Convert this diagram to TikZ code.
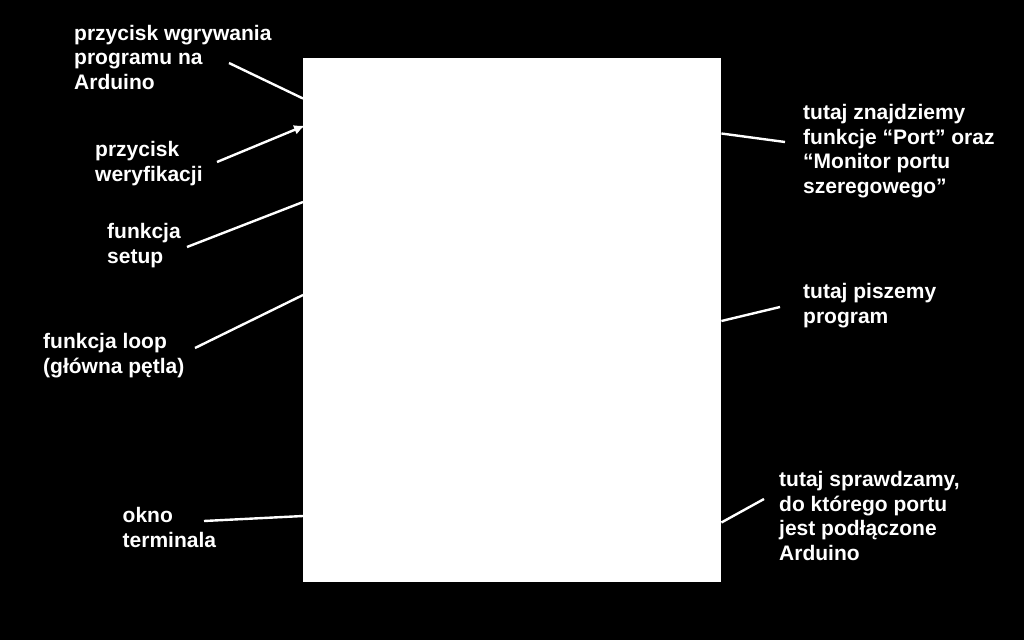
\documentclass[tikz,border=0pt]{standalone}
\usepackage{fontspec}
\setmainfont{Liberation Sans}
\usetikzlibrary{arrows.meta}
\tikzset{
  lbl/.style={anchor=base west, align=left, inner sep=0pt, text=white,
    font=\fontsize{21}{24.4}\selectfont\bfseries},
  conn/.style={draw=white, line width=2.4pt},
}
\begin{document}
\begin{tikzpicture}[x=1pt, y=-1pt]
\fill[black] (0,0) rectangle (1024,640);
\useasboundingbox (0,0) rectangle (1024,640);
\node[fill=white, draw=none, minimum width=418pt, minimum height=524pt, inner sep=0pt, anchor=north west] (win) at (303,57.5) {};

% anchors are at the baseline of each label's last line
\node[lbl] (l1) at (74,89) {przycisk wgrywania\\programu na\\Arduino};
\node[lbl] (l2) at (95,181) {przycisk\\weryfikacji};
\node[lbl] (l3) at (107,263) {funkcja\\setup};
\node[lbl] (l4) at (43,373) {funkcja loop\\(główna pętla)};
\node[lbl] (l5) at (122.5,547) {okno\\terminala};
\node[lbl] (r1) at (803,193) {tutaj znajdziemy\\funkcje “Port” oraz\\“Monitor portu\\szeregowego”};
\node[lbl] (r2) at (803,323) {tutaj piszemy\\program};
\node[lbl] (r3) at (779,560) {tutaj sprawdzamy,\\do którego portu\\jest podłączone\\Arduino};

\coordinate (c1) at (229,63);
\coordinate (c2) at (217,162);
\coordinate (c3) at (187,247);
\coordinate (c4) at (195,348);
\coordinate (c5) at (204,521);
\coordinate (c6) at (785,142);
\coordinate (c7) at (780,307);
\coordinate (c8) at (764,499);

\draw[conn] (c1) -- (win.west |- 0,98.5);
\draw[conn, -{Latex[length=11pt,width=10pt]}] (c2) -- (305,125.5);
\draw[conn] (c3) -- (win.west |- 0,202);
\draw[conn] (c4) -- (win.west |- 0,295);
\draw[conn] (c5) -- (win.west |- 0,516);
\draw[conn] (c6) -- (win.east |- 0,133.5);
\draw[conn] (c7) -- (win.east |- 0,321);
\draw[conn] (c8) -- (win.east |- 0,522.5);
\end{tikzpicture}
\end{document}
